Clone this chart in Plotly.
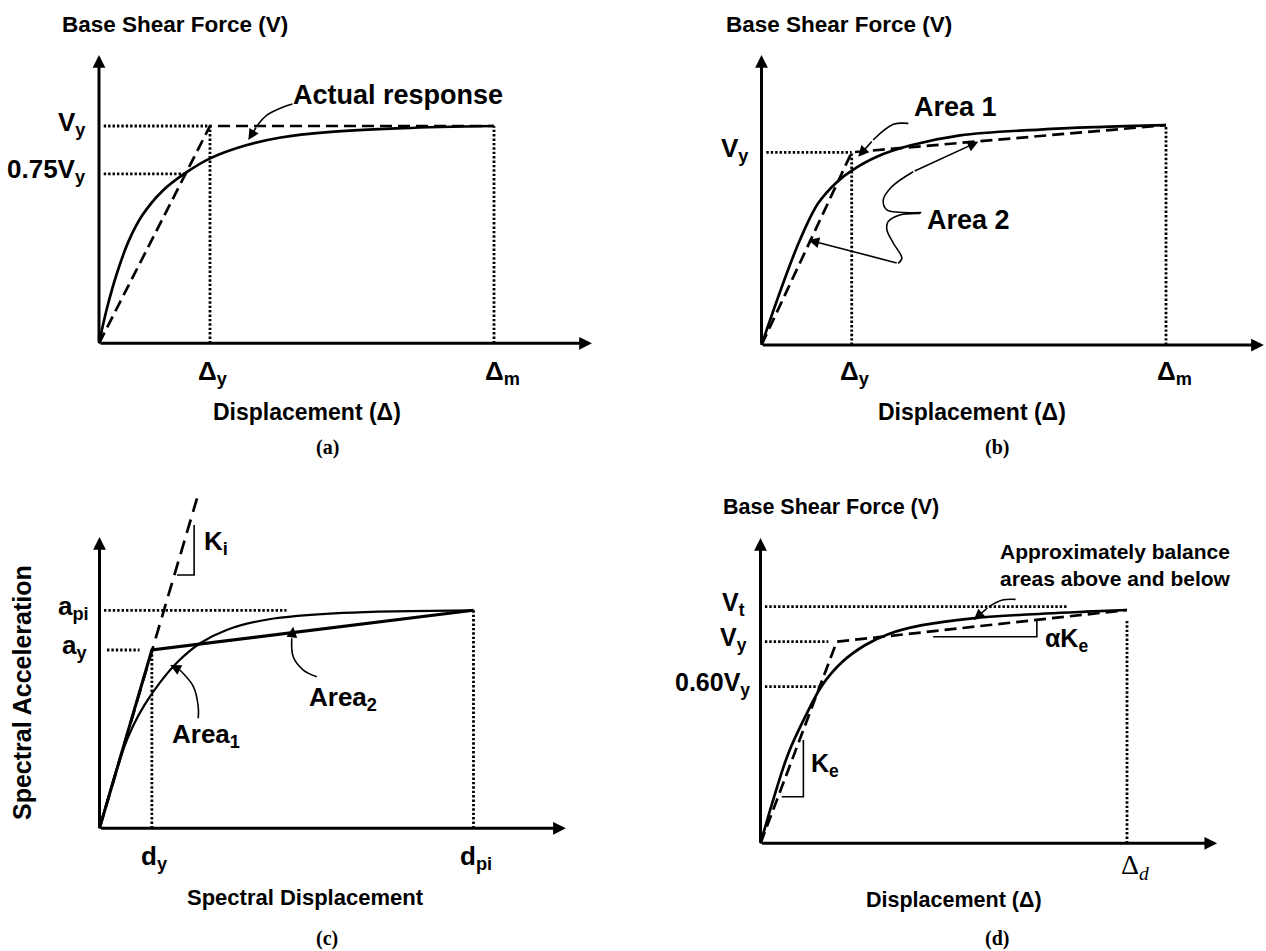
import plotly.graph_objects as go

# ===================== DATA (normalised units) =====================
# (a)  x: displacement / Δm,  y: base shear / Vy
a_Vy, a_075Vy = 1.0, 0.78
a_Dy, a_Dm = 0.281, 1.0
a_curve_x = [0, 0.02, 0.045, 0.075, 0.11, 0.16, 0.22, 0.28, 0.37, 0.46, 0.58, 0.77, 1.0]
a_curve_y = [0, 0.16, 0.32, 0.47, 0.59, 0.70, 0.785, 0.85, 0.91, 0.947, 0.972, 0.99, 1.0]
a_idealised_x = [0, a_Dy, a_Dm]
a_idealised_y = [0, a_Vy, a_Vy]
a_guide075_end = 0.216
a_axis_tip = (1.248, 1.327)
a_leader_x = [0.49, 0.47, 0.425, 0.40, 0.378]
a_leader_y = [1.101, 1.09, 1.05, 1.0, 0.936]

# (b)  x: displacement / Δm,  y: base shear / Vy
b_Vy, b_Vm = 1.0, 1.141
b_Dy, b_Dm = 0.223, 1.0
b_curve_x = [0, 0.058, 0.095, 0.140, 0.186, 0.223, 0.285, 0.367, 0.491, 0.688, 0.831, 1.0]
b_curve_y = [0, 0.346, 0.545, 0.735, 0.845, 0.905, 0.977, 1.035, 1.088, 1.118, 1.131, 1.141]
b_bilinear_x = [0, b_Dy, b_Dm]
b_bilinear_y = [0, b_Vy, b_Vm]
b_axis_tip = (1.242, 1.505)
b_area1_x = [0.363, 0.326, 0.276, 0.239]
b_area1_y = [1.150, 1.145, 1.064, 0.977]
b_area2u_x = [0.395, 0.342, 0.310, 0.301, 0.322, 0.375, 0.536]
b_area2u_y = [0.687, 0.689, 0.701, 0.752, 0.821, 0.899, 1.055]
b_area2l_x = [0.392, 0.342, 0.313, 0.310, 0.326, 0.347, 0.338, 0.116]
b_area2l_y = [0.683, 0.675, 0.640, 0.597, 0.528, 0.451, 0.424, 0.545]

# (c)  x: spectral displacement / d_pi,  y: spectral acceleration / a_pi
c_ay, c_api = 0.818, 1.0
c_dy, c_dpi = 0.14, 1.0
c_curve_x = [0, 0.06, 0.09, 0.12, 0.16, 0.21, 0.27, 0.34, 0.45, 0.65, 1.0]
c_curve_y = [0, 0.345, 0.47, 0.565, 0.665, 0.765, 0.85, 0.91, 0.958, 0.988, 1.0]
c_bilinear_x = [0, c_dy, c_dpi]
c_bilinear_y = [0, c_ay, c_api]
c_ki_x = [0, 0.261]
c_ki_y = [0, 1.515]
c_ki_tri_x = [0.207, 0.253, 0.253]
c_ki_tri_y = [1.162, 1.162, 1.391]
c_api_guide_end = 0.50
c_ay_guide = [0.02, 0.107]
c_axis_tip = (1.247, 1.336)
c_area1_x = [0.264, 0.264, 0.251, 0.215, 0.189]
c_area1_y = [0.505, 0.558, 0.650, 0.726, 0.749]
c_area2_x = [0.581, 0.545, 0.518, 0.514, 0.518]
c_area2_y = [0.695, 0.726, 0.787, 0.872, 0.925]

# (d)  x: displacement / Δd,  y: base shear / Vt
d_Vt, d_Vy, d_060Vy = 1.0, 0.852, 0.662
d_Dd = 1.0
d_curve_x = [0, 0.040, 0.076, 0.122, 0.167, 0.222, 0.286, 0.350, 0.441, 0.578, 0.715, 0.888, 1.0]
d_curve_y = [0, 0.211, 0.380, 0.535, 0.665, 0.765, 0.838, 0.885, 0.922, 0.951, 0.966, 0.979, 0.986]
d_bilinear_x = [0, 0.208, 1.0]
d_bilinear_y = [0, d_Vy, 0.986]
d_guide_ends = {"Vt": 0.835, "Vy": 0.185, "060Vy": 0.158}
d_Dd_top = 0.944
d_ake_tri_x = [0.471, 0.754, 0.754]
d_ake_tri_y = [0.873, 0.873, 0.944]
d_ke_tri_x = [0.058, 0.117, 0.117]
d_ke_tri_y = [0.197, 0.197, 0.437]
d_axis_tip = (1.246, 1.29)
d_leader_x = [0.696, 0.66, 0.623, 0.582]
d_leader_y = [1.031, 1.028, 1.0, 0.944]

# ===================== LAYOUT (pixel geometry of each panel) =====================
W, H = 1266, 951
SANS = "Liberation Sans, Arial, sans-serif"
SERIF = "Liberation Serif, Times New Roman, serif"
PANELS = {
    1: dict(ox=99.0, oy=343.3, ux=395.0, uy=217.3),
    2: dict(ox=761.5, oy=345.0, ux=404.5, uy=192.7),
    3: dict(ox=99.5, oy=828.3, ux=374.0, uy=218.0),
    4: dict(ox=760.5, oy=843.3, ux=366.5, uy=236.6),
}
GUIDE0 = 0.012  # small gap between axis and dotted guide lines
DOTW = 2.8
CURVEW = 2.7

fig = go.Figure()
layout_axes = {}
for k, p in PANELS.items():
    L = max(p["ox"] - 45, 0)
    R = min(p["ox"] + 530, W)
    T = max(p["oy"] - 345, 0)
    B = p["oy"] + 25
    xr = [(L - p["ox"]) / p["ux"], (R - p["ox"]) / p["ux"]]
    yr = [(p["oy"] - B) / p["uy"], (p["oy"] - T) / p["uy"]]
    sx = "" if k == 1 else str(k)
    layout_axes[f"xaxis{sx}"] = dict(domain=[L / W, R / W], range=xr, visible=False,
                                     anchor=f"y{sx}", fixedrange=True)
    layout_axes[f"yaxis{sx}"] = dict(domain=[1 - B / H, 1 - T / H], range=yr, visible=False,
                                     anchor=f"x{sx}", fixedrange=True)


def refs(k):
    s = "" if k == 1 else str(k)
    return "x" + s, "y" + s


def line(k, x, y, style="solid", width=CURVEW, shape="linear"):
    dash = {"solid": None, "dash": "12px,6px", "longdash": "14px,8px",
            "dot": "2.4px,2px"}[style]
    xr, yr = refs(k)
    fig.add_trace(go.Scatter(x=x, y=y, mode="lines", xaxis=xr, yaxis=yr,
                             line=dict(color="black", width=width, dash=dash, shape=shape),
                             hoverinfo="skip", showlegend=False))


annotations = []


def arrow(k, x0, y0, x1, y1, width=1.5, size=1.4):
    xr, yr = refs(k)
    annotations.append(dict(x=x1, y=y1, ax=x0, ay=y0, xref=xr, yref=yr, axref=xr, ayref=yr,
                            showarrow=True, arrowhead=2, arrowsize=size, arrowwidth=width,
                            arrowcolor="black", text=""))


def leader(k, xs, ys):
    # curved leader line ending in a straight arrow segment
    line(k, xs[:-1], ys[:-1], width=1.6, shape="spline")
    arrow(k, xs[-2], ys[-2], xs[-1], ys[-1], width=1.6, size=1.35)


def axes(k, tip):
    arrow(k, 0, 0, tip[0], 0, width=3, size=0.85)
    arrow(k, 0, 0, 0, tip[1], width=3, size=0.85)


def P(k, x, y):
    p = PANELS[k]
    return p["ox"] + x * p["ux"], p["oy"] - y * p["uy"]


def txt(text, xp, yp, size, xanchor="center", family=SANS, bold=True, angle=0,
        yanchor="middle", yshift=0, xshift=0):
    annotations.append(dict(x=xp / W, y=1 - yp / H, xref="paper", yref="paper", text=text,
                            showarrow=False, xanchor=xanchor, yanchor=yanchor, textangle=angle,
                            yshift=yshift, xshift=xshift,
                            font=dict(family=family, size=size, color="black",
                                      weight="bold" if bold else "normal")))


def ylabel(k, text, yval, gap, size=26, yshift=3):
    xp, yp = P(k, 0, yval)
    txt(text, xp - gap, yp, size, xanchor="right", yshift=yshift)


def xlabel(k, text, xval, yp, size=26, xshift=3, **kw):
    xp, _ = P(k, xval, 0)
    txt(text, xp, yp, size, xshift=xshift, **kw)


# ---------------- panel (a) ----------------
line(1, [GUIDE0, a_Dy], [a_Vy, a_Vy], "dot", DOTW)
line(1, [GUIDE0, a_guide075_end], [a_075Vy, a_075Vy], "dot", DOTW)
line(1, [a_Dy, a_Dy], [0, a_Vy], "dot", DOTW)
line(1, [a_Dm, a_Dm], [0, a_Vy], "dot", DOTW)
line(1, a_idealised_x, a_idealised_y, "dash")
line(1, a_curve_x, a_curve_y, "solid", shape="spline")
leader(1, a_leader_x, a_leader_y)
axes(1, a_axis_tip)
ylabel(1, "V<sub>y</sub>", a_Vy, 11)
ylabel(1, "0.75V<sub>y</sub>", a_075Vy, 11)
xlabel(1, "Δ<sub>y</sub>", a_Dy, 372)
xlabel(1, "Δ<sub>m</sub>", a_Dm, 372, xshift=8)
txt("Base Shear Force (V)", 175.5, 25, 22.5)
txt("Actual response", 398, 95, 27)
txt("Displacement (Δ)", 307, 412, 23)
txt("(a)", 327, 448, 20, family=SERIF)

# ---------------- panel (b) ----------------
line(2, [GUIDE0, b_Dy], [b_Vy, b_Vy], "dot", DOTW)
line(2, [b_Dy, b_Dy], [0, b_Vy], "dot", DOTW)
line(2, [b_Dm, b_Dm], [0, b_Vm], "dot", DOTW)
line(2, b_bilinear_x, b_bilinear_y, "dash")
line(2, b_curve_x, b_curve_y, "solid", shape="spline")
leader(2, b_area1_x, b_area1_y)
leader(2, b_area2u_x, b_area2u_y)
leader(2, b_area2l_x, b_area2l_y)
axes(2, b_axis_tip)
ylabel(2, "V<sub>y</sub>", b_Vy, 11)
xlabel(2, "Δ<sub>y</sub>", b_Dy, 372)
xlabel(2, "Δ<sub>m</sub>", b_Dm, 372, xshift=8)
txt("Base Shear Force (V)", 839, 25, 22.5)
txt("Area 1", 911.7, 106.7, 27, xanchor="left")
txt("Area 2", 925, 220, 27, xanchor="left")
txt("Displacement (Δ)", 972, 412, 23)
txt("(b)", 997, 448, 20, family=SERIF)

# ---------------- panel (c) ----------------
line(3, [GUIDE0, c_api_guide_end], [c_api, c_api], "dot", DOTW)
line(3, c_ay_guide, [c_ay, c_ay], "dot", DOTW)
line(3, [c_dy, c_dy], [0, c_ay], "dot", DOTW)
line(3, [c_dpi, c_dpi], [0, c_api], "dot", DOTW)
line(3, c_ki_x, c_ki_y, "longdash")
line(3, c_ki_tri_x, c_ki_tri_y, "solid", width=1.6)
line(3, c_curve_x, c_curve_y, "solid", width=2.2, shape="spline")
line(3, c_bilinear_x, c_bilinear_y, "solid", width=3)
leader(3, c_area1_x, c_area1_y)
leader(3, c_area2_x, c_area2_y)
axes(3, c_axis_tip)
ylabel(3, "a<sub>pi</sub>", c_api, 8.5)
ylabel(3, "a<sub>y</sub>", c_ay, 10.5)
xlabel(3, "d<sub>y</sub>", c_dy, 857)
xlabel(3, "d<sub>pi</sub>", c_dpi, 857, xshift=2)
txt("K<sub>i</sub>", 202, 542, 26, xanchor="left")
txt("Area<sub>1</sub>", 170, 735, 26, xanchor="left")
txt("Area<sub>2</sub>", 307, 698, 26, xanchor="left")
txt("Spectral Displacement", 305, 897, 22)
txt("Spectral Acceleration", 22, 693, 25, angle=-90)
txt("(c)", 327, 938, 20, family=SERIF)

# ---------------- panel (d) ----------------
line(4, [GUIDE0, d_guide_ends["Vt"]], [d_Vt, d_Vt], "dot", DOTW)
line(4, [GUIDE0, d_guide_ends["Vy"]], [d_Vy, d_Vy], "dot", DOTW)
line(4, [GUIDE0, d_guide_ends["060Vy"]], [d_060Vy, d_060Vy], "dot", DOTW)
line(4, [d_Dd, d_Dd], [0, d_Dd_top], "dot", DOTW)
line(4, d_ake_tri_x, d_ake_tri_y, "solid", width=1.6)
line(4, d_ke_tri_x, d_ke_tri_y, "solid", width=1.6)
line(4, d_bilinear_x, d_bilinear_y, "dash")
line(4, d_curve_x, d_curve_y, "solid", shape="spline")
leader(4, d_leader_x, d_leader_y)
axes(4, d_axis_tip)
ylabel(4, "V<sub>t</sub>", d_Vt, 14, size=25)
ylabel(4, "V<sub>y</sub>", d_Vy, 12, size=25)
ylabel(4, "0.60V<sub>y</sub>", d_060Vy, 8.5, size=25)
xlabel(4, "Δ<sub><i>d</i></sub>", d_Dd, 866, size=28, family=SERIF, bold=False, xshift=8)
txt("αK<sub>e</sub>", 1043, 640, 25, xanchor="left")
txt("K<sub>e</sub>", 809, 765, 25, xanchor="left")
txt("Approximately balance<br>areas above and below", 1115, 565, 21)
txt("Base Shear Force (V)", 831, 507, 21.5)
txt("Displacement (Δ)", 954, 900, 21.5)
txt("(d)", 997, 938, 20, family=SERIF)

fig.update_layout(width=W, height=H, margin=dict(l=0, r=0, t=0, b=0),
                  paper_bgcolor="white", plot_bgcolor="white", showlegend=False,
                  annotations=annotations, **layout_axes)
fig.write_html("out.html", config={"displayModeBar": False})
